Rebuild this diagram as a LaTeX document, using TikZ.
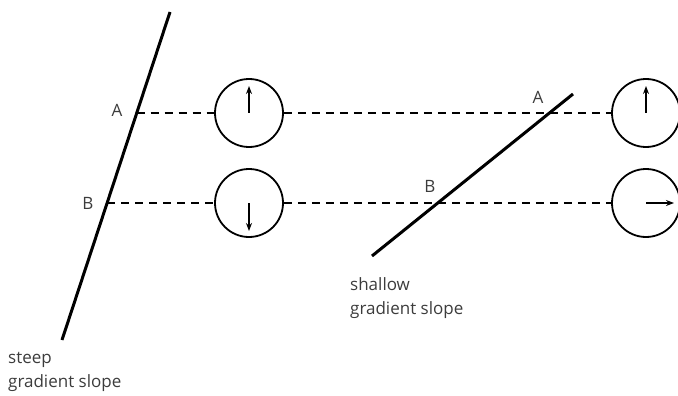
\documentclass[tikz,border=0pt]{standalone}
\usepackage{fontspec}
\setmainfont{Open Sans}
\usetikzlibrary{arrows.meta}
\definecolor{txt}{RGB}{60,60,60}
\tikzset{
  slope/.style={line width=3pt},
  guide/.style={line width=1.4pt, dash pattern=on 8pt off 6pt},
  dial/.style={circle, draw, line width=1.8pt, minimum size=68pt, inner sep=0pt},
  needle/.style={line width=1.5pt, -{Stealth[length=8pt,width=6pt]}},
  lbl/.style={text=txt, font=\fontsize{17pt}{24pt}\selectfont, inner sep=0pt},
  note/.style={lbl, align=left, anchor=north west}
}
\begin{document}
\begin{tikzpicture}[x=1pt,y=-1pt]
\useasboundingbox (0,0) rectangle (678,396);
% steep slope
\coordinate (s1) at (170,12);
\coordinate (s2) at (62,340);
\draw[slope] (s1) -- (s2);
\coordinate (sa) at (136.7,113);
\coordinate (sb) at (107.1,203);
% shallow slope
\coordinate (h1) at (573,94);
\coordinate (h2) at (372,256);
\draw[slope] (h1) -- (h2);
% dials
\node[dial] (c1) at (249,113) {};
\node[dial] (c2) at (249,203) {};
\node[dial] (c3) at (646,113) {};
\node[dial] (c4) at (646,203) {};
% guides
\draw[guide] (sa) -- (c1.west);
\draw[guide] (c1.east) -- (c3.west);
\draw[guide] (sb) -- (c2.west);
\draw[guide] (c2.east) -- (c4.west);
% needles
\draw[needle] (c1.center) -- ++(0,-27);
\draw[needle] (c2.center) -- ++(0,28);
\draw[needle] (c3.center) -- ++(0,-27);
\draw[needle] (c4.center) -- ++(28,0);
% labels
\node[lbl] (la1) at (117,110) {A};
\node[lbl] (lb1) at (88,203) {B};
\node[lbl] (la2) at (538,97) {A};
\node[lbl] (lb2) at (430,186) {B};
\node[note] (n1) at (8,352) {steep\\gradient slope};
\node[note] (n2) at (350,277) {shallow\\gradient slope};
\end{tikzpicture}
\end{document}
